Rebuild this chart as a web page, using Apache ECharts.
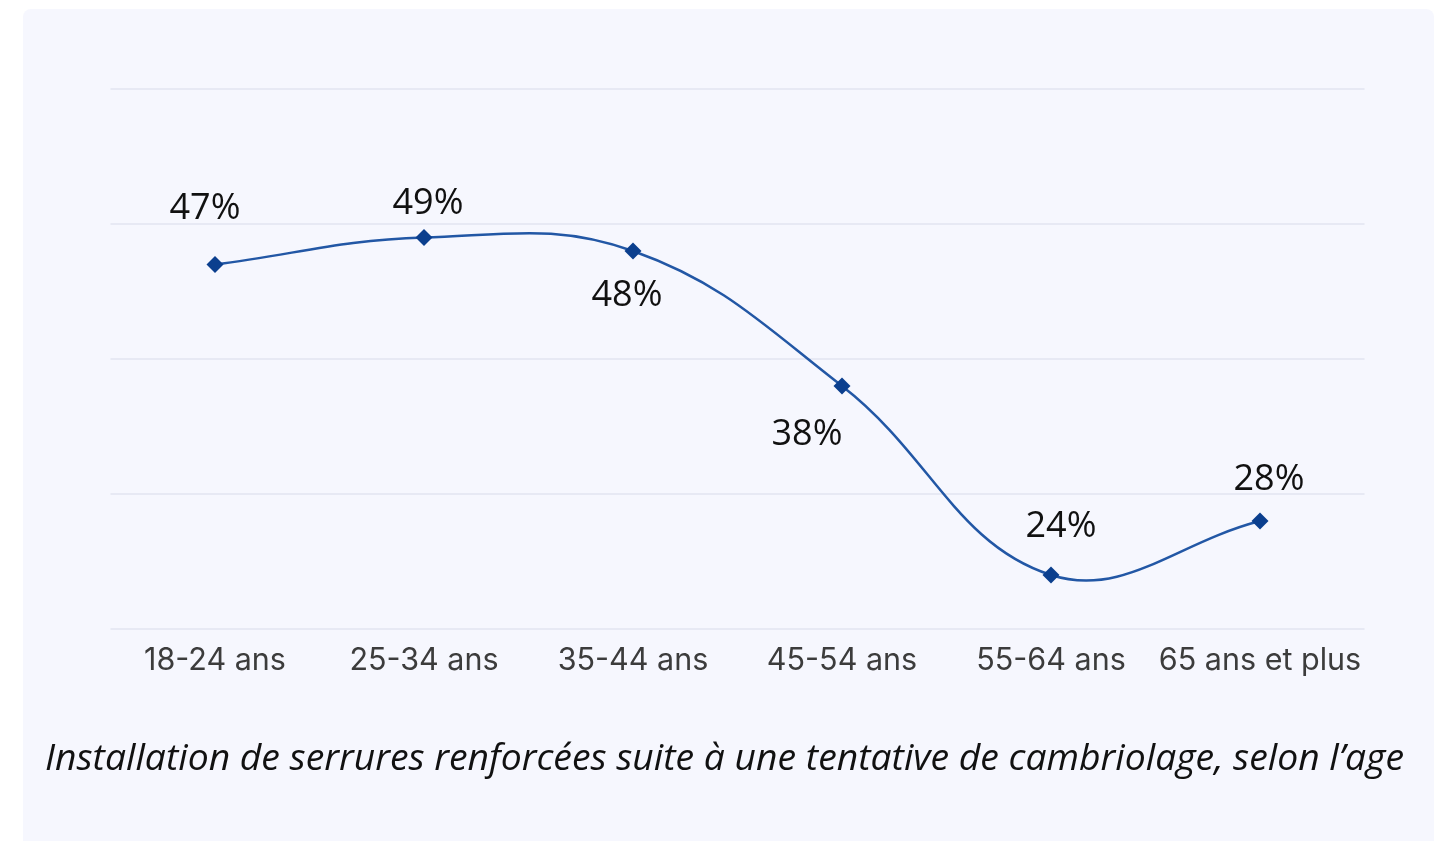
<!DOCTYPE html>
<html>
<head>
<meta charset="utf-8">
<script src="https://cdn.jsdelivr.net/npm/echarts@6/dist/echarts.min.js"></script>
<style>
  html, body { margin: 0; padding: 0; background: #fff; }
  #chart { width: 1449px; height: 841px; }
</style>
</head>
<body>
<div id="chart"></div>
<script>
// tranches d'age
const categories = ['18-24 ans', '25-34 ans', '35-44 ans', '45-54 ans', '55-64 ans', '65 ans et plus']
// part des personnes (%)
const values = [47, 49, 48, 38, 24, 28]
// position des étiquettes [dx, dy]
const labelOffsets = [[-10, -56], [4, -34], [-6, 45], [-35, 49], [10, -48], [9, -41]]
const caption = 'Installation de serrures renforcées suite à une tentative de cambriolage, selon l’age'

const tension = 0.4
const lineColor = '#2257a5'

const chart = echarts.init(document.getElementById('chart'))

// courbe lissée (spline cardinale) segment par segment
function renderSegment (params, api) {
  const i = params.dataIndex
  if (i >= values.length - 1) return null
  const pt = k => {
    const j = Math.max(0, Math.min(values.length - 1, k))
    return api.coord([j, values[j]])
  }
  const p0 = pt(i - 1), p1 = pt(i), p2 = pt(i + 1), p3 = pt(i + 2)
  const dist = (a, b) => Math.hypot(b[0] - a[0], b[1] - a[1])
  const ctrl = (prev, cur, next) => {
    const d01 = dist(prev, cur), d12 = dist(cur, next)
    const s = d01 + d12 || 1
    const fa = tension * d01 / s, fb = tension * d12 / s
    return {
      before: [cur[0] - fa * (next[0] - prev[0]), cur[1] - fa * (next[1] - prev[1])],
      after: [cur[0] + fb * (next[0] - prev[0]), cur[1] + fb * (next[1] - prev[1])]
    }
  }
  const c1 = ctrl(p0, p1, p2).after
  const c2 = ctrl(p1, p2, p3).before
  return {
    type: 'bezierCurve',
    shape: {
      x1: p1[0], y1: p1[1], x2: p2[0], y2: p2[1],
      cpx1: c1[0], cpy1: c1[1], cpx2: c2[0], cpy2: c2[1]
    },
    style: { stroke: lineColor, lineWidth: 2.5, fill: null }
  }
}

const option = {
  backgroundColor: '#ffffff',
  graphic: [
    {
      type: 'rect',
      z: -10,
      shape: { x: 23, y: 9, width: 1411, height: 840, r: [8, 8, 0, 0] },
      style: { fill: '#f6f7fe' }
    },
    {
      type: 'text',
      left: 'center',
      top: 741,
      style: {
        text: caption,
        font: 'italic 37.3px "Open Sans"',
        fill: '#111'
      }
    }
  ],
  grid: { left: 110.5, right: 84.5, top: 89, bottom: 212 },
  xAxis: {
    type: 'category',
    data: categories,
    boundaryGap: true,
    axisLine: { show: false },
    axisTick: { show: false },
    axisLabel: {
      color: '#3c3c3c',
      fontFamily: 'Inter',
      fontSize: 30.5,
      margin: 16,
      interval: 0
    }
  },
  yAxis: {
    type: 'value',
    min: 20,
    max: 60,
    interval: 10,
    axisLabel: { show: false },
    axisLine: { show: false },
    axisTick: { show: false },
    splitLine: { lineStyle: { color: '#e2e4f0', width: 1.5 } }
  },
  series: [
    {
      type: 'custom',
      renderItem: renderSegment,
      data: values.map((v, i) => [i, v]),
      encode: { x: 0, y: 1 },
      silent: true,
      z: 2
    },
    {
      type: 'line',
      data: values.map((v, i) => ({
        value: v,
        label: { offset: labelOffsets[i] }
      })),
      symbol: 'diamond',
      symbolSize: 17,
      showAllSymbol: true,
      lineStyle: { width: 0, opacity: 0 },
      itemStyle: { color: '#0b3f8e' },
      z: 3,
      label: {
        show: true,
        position: 'inside',
        formatter: '{c}%',
        fontFamily: '"Open Sans"',
        fontSize: 36,
        color: '#111'
      }
    }
  ]
}

chart.setOption(option)
</script>
</body>
</html>
